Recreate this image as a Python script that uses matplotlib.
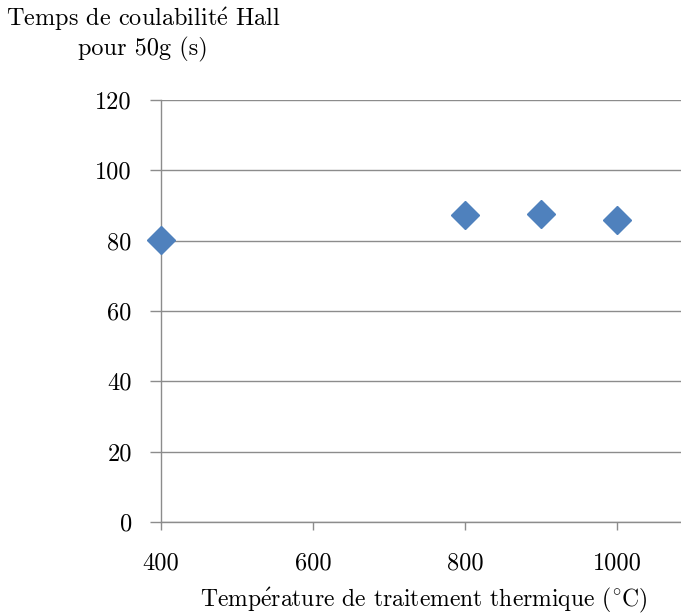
import matplotlib
matplotlib.use("Agg")
from matplotlib import pyplot as plt

temperature = [400, 800, 900, 1000]
temps_hall = [80.3, 87.2, 87.5, 86.0]
x_ticks = [400, 600, 800, 1000]
y_ticks = [0, 20, 40, 60, 80, 100, 120]

plt.rcParams['font.family'] = ['cmr10', 'DejaVu Serif']
plt.rcParams['mathtext.fontset'] = 'cm'
plt.rcParams['axes.formatter.use_mathtext'] = True
plt.rcParams['font.size'] = 17.5

fig = plt.figure(figsize=(6.81, 6.16), dpi=100)
axes = fig.add_axes([0.2364, 0.1526, 0.7636, 0.6851])

axes.plot(temperature, temps_hall, linestyle='none', marker='D', markersize=14,
          color='#4F81BD', clip_on=False, zorder=3)

axes.set_xlim(400, 1084)
axes.set_ylim(0, 120)
axes.set_xticks(x_ticks)
axes.set_yticks(y_ticks)
axes.set_xticklabels([str(v) for v in x_ticks])
axes.set_yticklabels([str(v) for v in y_ticks])
axes.yaxis.grid(True, color='#8c8c8c', linewidth=1)
axes.set_axisbelow(True)

for side in ['top', 'right']:
    axes.spines[side].set_visible(False)
for side in ['left', 'bottom']:
    axes.spines[side].set_color('#8c8c8c')
    axes.spines[side].set_linewidth(1)
axes.tick_params(axis='y', direction='out', length=8, width=1, color='#8c8c8c', pad=13)
axes.tick_params(axis='x', direction='out', length=6, width=1, color='#8c8c8c', pad=16)

axes.set_xlabel(r'Temp$\mathrm{\acute{e}}$rature de traitement thermique ($\mathrm{^{\circ}C}$)', fontsize=17)
axes.xaxis.set_label_coords(0.505, -0.152)
fig.text(143 / 681, 1 - 19 / 616, r'Temps de coulabilit$\mathrm{\acute{e}}$ Hall', ha='center', va='center')
fig.text(143 / 681, 1 - 49 / 616, 'pour 50g (s)', ha='center', va='center')

plt.savefig('out.png', dpi=100)
